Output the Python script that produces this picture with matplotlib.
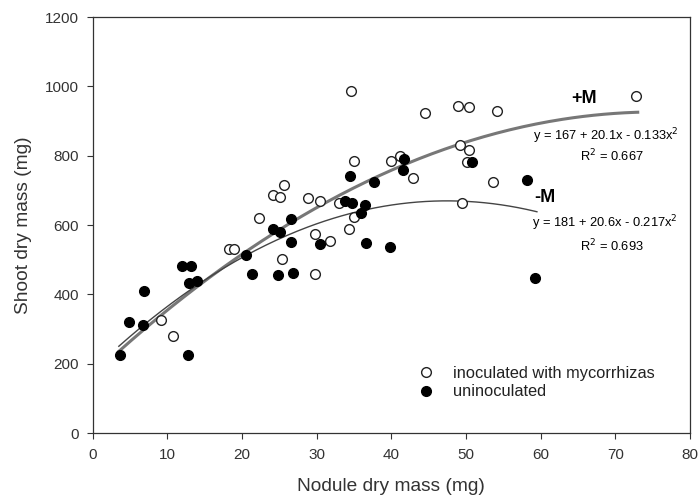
import numpy as np
import matplotlib
matplotlib.use("Agg")
import matplotlib.pyplot as plt

plt.rcParams['font.family'] = ['Liberation Sans', 'DejaVu Sans']

# inoculated with mycorrhizas (open circles)
inoc_x = [9.2, 10.7, 18.3, 18.9, 22.3, 24.1, 25.1, 25.6, 25.3, 28.9, 30.4, 33.0,
          29.8, 31.8, 29.8, 34.3, 35.0, 35.0, 34.6, 40.0, 41.1, 42.9, 44.5, 48.9,
          50.4, 54.1, 49.2, 50.4, 50.1, 53.6, 49.5, 72.8]
inoc_y = [326, 281, 531, 531, 620, 688, 680, 717, 502, 677, 670, 664,
          574, 555, 460, 588, 624, 785, 988, 785, 799, 735, 922, 943,
          940, 930, 831, 818, 783, 725, 663, 972]

# uninoculated (filled circles)
unin_x = [3.6, 4.9, 6.7, 6.9, 12.0, 13.2, 12.7, 12.9, 14.0, 20.6, 21.4, 24.1,
          25.1, 24.8, 26.8, 26.6, 26.6, 30.5, 33.8, 34.7, 36.5, 36.0, 36.6, 34.4,
          37.7, 39.8, 41.7, 41.6, 50.8, 58.2, 59.3]
unin_y = [225, 321, 311, 410, 482, 482, 225, 432, 438, 515, 459, 588,
          581, 456, 462, 617, 552, 545, 670, 663, 658, 635, 549, 742,
          723, 537, 792, 759, 781, 730, 446]

# fitted quadratics: a + b*x + c*x^2
fit_plus = (167, 20.1, -0.133)
fit_minus = (181, 20.6, -0.217)
plus_range = (3.5, 73)
minus_range = (3.5, 59.5)

fig = plt.figure(figsize=(7, 5.03), dpi=100)
ax = fig.add_axes([0.1324, 0.139, 0.8533, 0.827])

xp = np.linspace(plus_range[0], plus_range[1], 200)
ax.plot(xp, fit_plus[0] + fit_plus[1] * xp + fit_plus[2] * xp ** 2,
        color='#777777', lw=2.2, zorder=2)
xm = np.linspace(minus_range[0], minus_range[1], 200)
ax.plot(xm, fit_minus[0] + fit_minus[1] * xm + fit_minus[2] * xm ** 2,
        color='#444444', lw=1.0, zorder=2)

ax.plot(inoc_x, inoc_y, 'o', mfc='white', mec='#222222', mew=1.0, ms=7,
        label='inoculated with mycorrhizas', zorder=3)
ax.plot(unin_x, unin_y, 'o', mfc='black', mec='black', mew=1.0, ms=7,
        label='uninoculated', zorder=3)

ax.set_xlim(0, 80)
ax.set_ylim(0, 1200)
ax.set_xticks(range(0, 81, 10))
ax.set_yticks(range(0, 1201, 200))
ax.tick_params(direction='out', length=4, width=0.8, colors='#333333',
               labelsize=11)
ax.tick_params(axis='x', pad=6.5)
ax.tick_params(axis='y', pad=6)
for s in ax.spines.values():
    s.set_color('#333333')
    s.set_linewidth(0.9)

ax.set_xlabel('Nodule dry mass (mg)', fontsize=13.8, color='#333333', labelpad=12)
ax.set_ylabel('Shoot dry mass (mg)', fontsize=13.8, color='#333333', labelpad=9)

ax.text(65.8, 965, '+M', fontsize=13, fontweight='bold', ha='center', va='center')
ax.text(68.8, 855, 'y = 167 + 20.1x - 0.133x$^2$', fontsize=9.3, ha='center', va='center')
ax.text(69.6, 800, 'R$^2$ = 0.667', fontsize=9.3, ha='center', va='center')
ax.text(60.5, 680, '-M', fontsize=13, fontweight='bold', ha='center', va='center')
ax.text(68.6, 605, 'y = 181 + 20.6x - 0.217x$^2$', fontsize=9.3, ha='center', va='center')
ax.text(69.6, 539, 'R$^2$ = 0.693', fontsize=9.3, ha='center', va='center')

ax.legend(loc='upper left', bbox_to_anchor=(0.531, 0.181), frameon=False,
          fontsize=11.8, handlelength=1.0, handletextpad=1.16, borderpad=0,
          labelspacing=0.2, labelcolor='#222222')

fig.savefig('out.png', dpi=100)
